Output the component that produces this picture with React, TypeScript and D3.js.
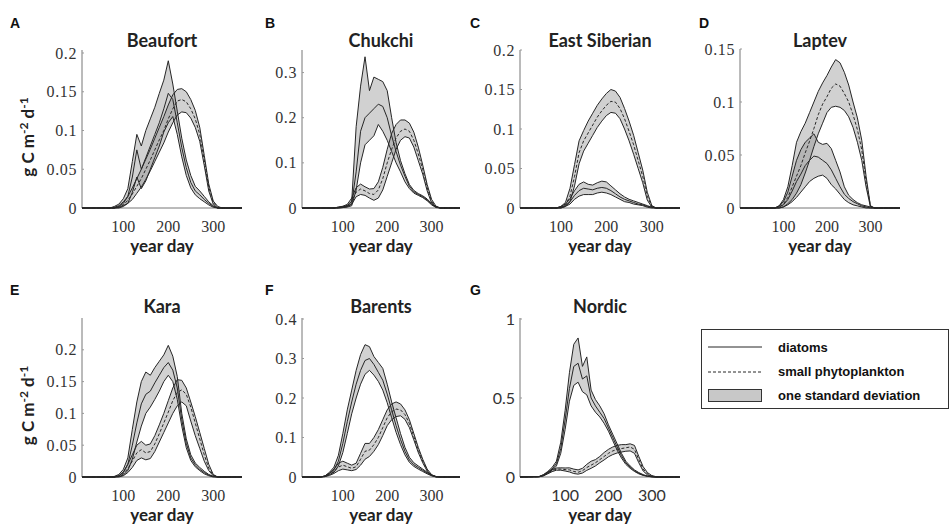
import React from 'react';
import * as d3 from 'd3';

const DAYS = [40,50,60,70,80,90,100,110,120,130,140,150,160,170,180,190,200,210,220,230,240,250,260,270,280,290,300,310,320,330];
const X_TICKS = [100, 200, 300];

// Beaufort
const beaufortDiatomLo = [0,0,0,0,0,0.001,0.003,0.006,0.02,0.04,0.025,0.035,0.05,0.065,0.08,0.098,0.11,0.118,0.095,0.066,0.042,0.026,0.017,0.012,0.008,0.004,0.001,0,0,0];
const beaufortDiatomMean = [0,0,0,0,0.001,0.003,0.008,0.015,0.04,0.075,0.05,0.065,0.08,0.095,0.11,0.128,0.148,0.14,0.11,0.078,0.052,0.033,0.022,0.017,0.011,0.006,0.002,0,0,0];
const beaufortDiatomHi = [0,0,0,0,0.002,0.005,0.012,0.025,0.06,0.095,0.08,0.1,0.115,0.13,0.148,0.165,0.19,0.16,0.125,0.09,0.062,0.042,0.028,0.022,0.015,0.008,0.003,0,0,0];
const beaufortSmallLo = [0,0,0,0,0,0,0.002,0.006,0.011,0.019,0.027,0.037,0.048,0.06,0.072,0.084,0.098,0.11,0.12,0.124,0.123,0.116,0.104,0.086,0.055,0.022,0.005,0,0,0];
const beaufortSmallMean = [0,0,0,0,0,0.001,0.004,0.01,0.018,0.028,0.038,0.05,0.062,0.075,0.088,0.1,0.115,0.128,0.138,0.14,0.137,0.128,0.115,0.095,0.062,0.027,0.007,0.001,0,0];
const beaufortSmallHi = [0,0,0,0,0,0.002,0.006,0.015,0.026,0.038,0.05,0.063,0.076,0.09,0.104,0.118,0.133,0.146,0.153,0.154,0.15,0.14,0.126,0.104,0.068,0.031,0.009,0.002,0,0];

// Chukchi
const chukchiDiatomLo = [0,0,0,0,0,0,0.001,0.002,0.005,0.04,0.1,0.14,0.15,0.16,0.185,0.17,0.15,0.125,0.1,0.08,0.058,0.043,0.033,0.028,0.023,0.016,0.007,0.001,0,0];
const chukchiDiatomMean = [0,0,0,0,0,0.001,0.002,0.004,0.01,0.08,0.17,0.2,0.21,0.22,0.23,0.225,0.2,0.16,0.125,0.095,0.07,0.048,0.036,0.03,0.025,0.018,0.008,0.002,0,0];
const chukchiDiatomHi = [0,0,0,0,0,0.002,0.003,0.006,0.015,0.18,0.27,0.335,0.26,0.29,0.285,0.28,0.26,0.2,0.145,0.105,0.076,0.052,0.039,0.032,0.027,0.02,0.01,0.003,0,0];
const chukchiSmallLo = [0,0,0,0,0,0,0.001,0.003,0.008,0.025,0.03,0.028,0.022,0.017,0.022,0.04,0.07,0.1,0.13,0.15,0.158,0.155,0.135,0.105,0.075,0.038,0.011,0.002,0,0];
const chukchiSmallMean = [0,0,0,0,0,0.001,0.002,0.005,0.015,0.035,0.042,0.038,0.032,0.03,0.04,0.065,0.1,0.13,0.155,0.17,0.175,0.17,0.15,0.12,0.085,0.045,0.015,0.003,0,0];
const chukchiSmallHi = [0,0,0,0,0,0.002,0.004,0.008,0.022,0.045,0.053,0.047,0.042,0.043,0.058,0.09,0.13,0.165,0.185,0.195,0.195,0.188,0.168,0.135,0.095,0.052,0.019,0.004,0,0];

// East Siberian
const eastSibDiatomLo = [0,0,0,0,0,0,0,0.002,0.005,0.011,0.015,0.017,0.017,0.017,0.019,0.02,0.019,0.017,0.014,0.011,0.008,0.007,0.005,0.004,0.003,0.001,0,0,0,0];
const eastSibDiatomMean = [0,0,0,0,0,0,0.001,0.003,0.008,0.016,0.022,0.025,0.024,0.023,0.025,0.026,0.025,0.022,0.018,0.014,0.011,0.009,0.007,0.005,0.004,0.002,0.001,0,0,0];
const eastSibDiatomHi = [0,0,0,0,0,0,0.002,0.005,0.012,0.022,0.03,0.033,0.03,0.029,0.032,0.034,0.033,0.028,0.023,0.018,0.014,0.011,0.009,0.007,0.005,0.003,0.001,0,0,0];
const eastSibSmallLo = [0,0,0,0,0,0,0,0.002,0.008,0.028,0.056,0.072,0.082,0.092,0.102,0.11,0.117,0.121,0.12,0.113,0.1,0.085,0.068,0.05,0.032,0.01,0.001,0,0,0];
const eastSibSmallMean = [0,0,0,0,0,0,0.001,0.004,0.015,0.04,0.07,0.085,0.095,0.105,0.115,0.123,0.13,0.135,0.134,0.126,0.113,0.097,0.08,0.06,0.04,0.015,0.002,0,0,0];
const eastSibSmallHi = [0,0,0,0,0,0,0.002,0.007,0.025,0.055,0.085,0.098,0.11,0.12,0.13,0.138,0.145,0.15,0.148,0.14,0.126,0.11,0.092,0.07,0.048,0.02,0.003,0,0,0];

// Laptev
const laptevDiatomLo = [0,0,0,0,0,0,0.001,0.003,0.006,0.01,0.015,0.02,0.025,0.028,0.03,0.031,0.028,0.022,0.018,0.013,0.008,0.005,0.003,0.002,0.001,0,0,0,0,0];
const laptevDiatomMean = [0,0,0,0,0,0.001,0.003,0.008,0.016,0.025,0.032,0.04,0.045,0.049,0.048,0.045,0.042,0.036,0.028,0.02,0.013,0.009,0.006,0.004,0.002,0.001,0,0,0,0];
const laptevDiatomHi = [0,0,0,0,0,0.002,0.006,0.015,0.03,0.045,0.055,0.062,0.066,0.07,0.062,0.06,0.061,0.056,0.045,0.034,0.02,0.012,0.008,0.005,0.003,0.002,0.001,0,0,0];
const laptevSmallLo = [0,0,0,0,0,0,0.001,0.004,0.008,0.014,0.022,0.033,0.045,0.058,0.07,0.08,0.09,0.095,0.096,0.095,0.092,0.086,0.076,0.062,0.045,0.02,0.001,0,0,0];
const laptevSmallMean = [0,0,0,0,0,0.001,0.004,0.01,0.02,0.03,0.04,0.052,0.063,0.075,0.088,0.098,0.105,0.113,0.117,0.115,0.108,0.1,0.088,0.074,0.055,0.025,0.002,0,0,0];
const laptevSmallHi = [0,0,0,0,0,0.002,0.008,0.02,0.04,0.062,0.072,0.08,0.09,0.1,0.11,0.118,0.125,0.133,0.14,0.137,0.128,0.116,0.1,0.085,0.064,0.03,0.002,0,0,0];

// Kara
const karaDiatomLo = [0,0,0,0,0,0.001,0.003,0.01,0.028,0.055,0.08,0.1,0.11,0.122,0.135,0.15,0.16,0.15,0.122,0.08,0.046,0.026,0.016,0.01,0.005,0.002,0,0,0,0];
const karaDiatomMean = [0,0,0,0,0,0.002,0.007,0.02,0.05,0.085,0.115,0.13,0.135,0.148,0.16,0.172,0.18,0.168,0.14,0.09,0.053,0.03,0.019,0.012,0.007,0.003,0.001,0,0,0];
const karaDiatomHi = [0,0,0,0,0.001,0.004,0.012,0.03,0.075,0.118,0.15,0.165,0.16,0.172,0.182,0.192,0.207,0.19,0.158,0.1,0.06,0.035,0.022,0.015,0.009,0.004,0.001,0,0,0];
const karaSmallLo = [0,0,0,0,0,0,0.002,0.007,0.015,0.026,0.03,0.027,0.029,0.04,0.055,0.07,0.085,0.1,0.112,0.118,0.112,0.088,0.065,0.045,0.025,0.01,0.002,0,0,0];
const karaSmallMean = [0,0,0,0,0,0.001,0.005,0.013,0.025,0.038,0.043,0.038,0.04,0.052,0.068,0.085,0.102,0.12,0.133,0.137,0.13,0.11,0.085,0.06,0.035,0.014,0.003,0,0,0];
const karaSmallHi = [0,0,0,0,0,0.002,0.008,0.02,0.035,0.05,0.056,0.05,0.052,0.065,0.082,0.1,0.12,0.14,0.153,0.152,0.14,0.118,0.095,0.07,0.045,0.02,0.004,0,0,0];

// Barents
const barentsDiatomLo = [0,0,0.001,0.006,0.012,0.028,0.062,0.11,0.16,0.2,0.235,0.26,0.27,0.258,0.242,0.22,0.188,0.15,0.113,0.082,0.056,0.037,0.027,0.02,0.014,0.008,0.003,0,0,0];
const barentsDiatomMean = [0,0,0.002,0.009,0.018,0.04,0.085,0.14,0.19,0.235,0.27,0.295,0.3,0.285,0.265,0.245,0.21,0.17,0.13,0.095,0.065,0.043,0.031,0.024,0.017,0.01,0.004,0.001,0,0];
const barentsDiatomHi = [0,0,0.003,0.012,0.025,0.055,0.11,0.17,0.22,0.27,0.31,0.335,0.33,0.305,0.29,0.275,0.235,0.19,0.15,0.11,0.075,0.05,0.036,0.028,0.02,0.012,0.005,0.001,0,0];
const barentsSmallLo = [0,0,0.001,0.004,0.009,0.016,0.02,0.018,0.016,0.019,0.03,0.045,0.052,0.065,0.082,0.105,0.13,0.145,0.153,0.155,0.146,0.125,0.094,0.062,0.036,0.015,0.004,0,0,0];
const barentsSmallMean = [0,0,0.002,0.007,0.014,0.025,0.03,0.026,0.022,0.026,0.045,0.065,0.068,0.082,0.1,0.125,0.15,0.165,0.172,0.17,0.158,0.135,0.102,0.068,0.04,0.017,0.005,0.001,0,0];
const barentsSmallHi = [0,0,0.003,0.01,0.02,0.035,0.04,0.035,0.03,0.035,0.06,0.085,0.085,0.1,0.12,0.145,0.17,0.185,0.19,0.185,0.17,0.145,0.11,0.075,0.045,0.02,0.006,0.001,0,0];

// Nordic
const nordicDiatomLo = [0.001,0.008,0.024,0.042,0.07,0.15,0.3,0.48,0.58,0.6,0.54,0.52,0.45,0.41,0.38,0.34,0.29,0.23,0.17,0.12,0.08,0.055,0.035,0.02,0.01,0.004,0.001,0,0,0];
const nordicDiatomMean = [0.002,0.012,0.03,0.05,0.085,0.18,0.36,0.56,0.7,0.72,0.62,0.64,0.5,0.45,0.41,0.37,0.31,0.25,0.19,0.135,0.09,0.063,0.04,0.024,0.012,0.005,0.001,0,0,0];
const nordicDiatomHi = [0.003,0.015,0.035,0.06,0.1,0.22,0.42,0.66,0.84,0.88,0.7,0.76,0.55,0.49,0.45,0.4,0.33,0.27,0.21,0.15,0.1,0.07,0.045,0.028,0.015,0.006,0.002,0,0,0];
const nordicSmallLo = [0.001,0.007,0.02,0.034,0.043,0.043,0.038,0.032,0.022,0.018,0.025,0.042,0.055,0.07,0.09,0.108,0.128,0.142,0.152,0.158,0.163,0.165,0.15,0.09,0.038,0.013,0.004,0,0,0];
const nordicSmallMean = [0.002,0.01,0.025,0.04,0.05,0.05,0.047,0.045,0.035,0.03,0.04,0.06,0.075,0.09,0.11,0.13,0.15,0.165,0.175,0.18,0.185,0.19,0.175,0.11,0.05,0.02,0.006,0.001,0,0];
const nordicSmallHi = [0.003,0.013,0.03,0.046,0.057,0.058,0.057,0.058,0.05,0.045,0.055,0.08,0.1,0.11,0.13,0.155,0.175,0.19,0.2,0.205,0.205,0.21,0.2,0.13,0.065,0.028,0.009,0.002,0,0];

const PANEL_DATA = [
  { letter: 'A', title: 'Beaufort', dLo: beaufortDiatomLo, dMean: beaufortDiatomMean, dHi: beaufortDiatomHi, sLo: beaufortSmallLo, sMean: beaufortSmallMean, sHi: beaufortSmallHi, yTicks: [0, 0.05, 0.1, 0.15, 0.2], yMax: 0.2 },
  { letter: 'B', title: 'Chukchi', dLo: chukchiDiatomLo, dMean: chukchiDiatomMean, dHi: chukchiDiatomHi, sLo: chukchiSmallLo, sMean: chukchiSmallMean, sHi: chukchiSmallHi, yTicks: [0, 0.1, 0.2, 0.3], yMax: 0.35 },
  { letter: 'C', title: 'East Siberian', dLo: eastSibDiatomLo, dMean: eastSibDiatomMean, dHi: eastSibDiatomHi, sLo: eastSibSmallLo, sMean: eastSibSmallMean, sHi: eastSibSmallHi, yTicks: [0, 0.05, 0.1, 0.15, 0.2], yMax: 0.2 },
  { letter: 'D', title: 'Laptev', dLo: laptevDiatomLo, dMean: laptevDiatomMean, dHi: laptevDiatomHi, sLo: laptevSmallLo, sMean: laptevSmallMean, sHi: laptevSmallHi, yTicks: [0, 0.05, 0.1, 0.15], yMax: 0.15 },
  { letter: 'E', title: 'Kara', dLo: karaDiatomLo, dMean: karaDiatomMean, dHi: karaDiatomHi, sLo: karaSmallLo, sMean: karaSmallMean, sHi: karaSmallHi, yTicks: [0, 0.05, 0.1, 0.15, 0.2], yMax: 0.25 },
  { letter: 'F', title: 'Barents', dLo: barentsDiatomLo, dMean: barentsDiatomMean, dHi: barentsDiatomHi, sLo: barentsSmallLo, sMean: barentsSmallMean, sHi: barentsSmallHi, yTicks: [0, 0.1, 0.2, 0.3, 0.4], yMax: 0.4 },
  { letter: 'G', title: 'Nordic', dLo: nordicDiatomLo, dMean: nordicDiatomMean, dHi: nordicDiatomHi, sLo: nordicSmallLo, sMean: nordicSmallMean, sHi: nordicSmallHi, yTicks: [0, 0.5, 1], yMax: 1 },
];

const LEGEND_LABELS = ['diatoms', 'small phytoplankton', 'one standard deviation'];

// Layout (positions / styles)
const LAYOUT = [
  { x0: 82, x1: 242, yTop: 53, axisTop: 50, yBot: 208, xDom: [8, 364], letterX: 10, sans: false, yLabel: true },
  { x0: 302, x1: 460, yTop: 50, axisTop: 50, yBot: 208, xDom: [8, 364], letterX: 265, sans: false, yLabel: false },
  { x0: 520, x1: 680, yTop: 50, axisTop: 50, yBot: 208, xDom: [10, 362], letterX: 470, sans: false, yLabel: false },
  { x0: 740, x1: 900, yTop: 49, axisTop: 49, yBot: 208, xDom: [0, 368], letterX: 699, sans: false, yLabel: false },
  { x0: 82, x1: 242, yTop: 318, axisTop: 318, yBot: 477, xDom: [8, 364], letterX: 10, sans: false, yLabel: true },
  { x0: 302, x1: 460, yTop: 319, axisTop: 318, yBot: 477, xDom: [8, 364], letterX: 265, sans: false, yLabel: false },
  { x0: 520, x1: 680, yTop: 319, axisTop: 318, yBot: 477, xDom: [-4, 365], letterX: 470, sans: true, yLabel: false },
];

const LINE = '#262626';
const BAND = '#8c8c8c';
const SERIF = 'Liberation Serif, serif';
const SANS = 'Lato, Open Sans, sans-serif';
const ARIAL = 'Liberation Sans, Arial, sans-serif';

function Panel({ data, lay }: any) {
  const x = d3.scaleLinear().domain(lay.xDom).range([lay.x0, lay.x1]);
  const y = d3.scaleLinear().domain([0, data.yMax]).range([lay.yBot, lay.yTop]);
  const pts = (vals: number[]) => [[lay.xDom[0], 0], ...DAYS.map((d, i) => [d, vals[i]]), [lay.xDom[1], 0]] as [number, number][];
  const band = (lo: number[], hi: number[]) => {
    const a = d3.area<number>()
      .x((i) => x(i < 0 ? lay.xDom[0] : i >= DAYS.length ? lay.xDom[1] : DAYS[i]))
      .y0((i) => y(i < 0 || i >= DAYS.length ? 0 : lo[i]))
      .y1((i) => y(i < 0 || i >= DAYS.length ? 0 : hi[i]));
    return a([-1, ...DAYS.map((_, i) => i), DAYS.length]) as string;
  };
  const line = d3.line<[number, number]>().x((p) => x(p[0])).y((p) => y(p[1]));
  const row = lay.yBot < 300 ? 0 : 1;
  const titleY = row === 0 ? 47 : 313;
  const letterY = row === 0 ? 28 : 295;
  const tickFont = lay.sans ? SANS : SERIF;
  const tickSize = lay.sans ? 16 : 16;
  const cx = (lay.x0 + lay.x1) / 2;
  return (
    <g>
      <text x={lay.letterX} y={letterY} fontFamily={ARIAL} fontWeight="bold" fontSize={14} fill="#111">{data.letter}</text>
      <text x={cx} y={titleY} textAnchor="middle" fontFamily={SANS} fontWeight="bold" fontSize={18} fill="#222">{data.title}</text>
      <path d={band(data.sLo, data.sHi)} fill={BAND} fillOpacity={0.4} stroke="none" />
      <path d={band(data.dLo, data.dHi)} fill={BAND} fillOpacity={0.4} stroke="none" />
      <line x1={lay.x0} x2={lay.x0} y1={lay.yBot} y2={lay.axisTop} stroke="#777" strokeWidth={1} />
      <line x1={lay.x0} x2={lay.x1} y1={lay.yBot} y2={lay.yBot} stroke="#777" strokeWidth={1} />
      {data.yTicks.map((t: number) => (
        <line key={'t' + t} x1={lay.x0} x2={lay.x0 + 2} y1={y(t)} y2={y(t)} stroke="#999" strokeWidth={1} />
      ))}
      {[data.sLo, data.sHi, data.dLo, data.dHi, data.dMean].map((s: number[], i: number) => (
        <path key={i} d={line(pts(s)) as string} fill="none" stroke={LINE} strokeWidth={1} />
      ))}
      <path d={line(pts(data.sMean)) as string} fill="none" stroke={LINE} strokeWidth={1} strokeDasharray="3,2" />
      {data.yTicks.map((t: number) => (
        <text key={t} x={lay.x0 - 5} y={y(t)} dy="0.35em" textAnchor="end" fontFamily={tickFont} fontSize={tickSize} letterSpacing={lay.sans ? 0 : 0.6} fill="#333">{String(t)}</text>
      ))}
      {X_TICKS.map((t) => (
        <text key={t} x={x(t)} y={lay.yBot + 24} textAnchor="middle" fontFamily={tickFont} fontSize={tickSize} fill="#333">{String(t)}</text>
      ))}
      <text x={cx} y={lay.yBot + 44} textAnchor="middle" fontFamily={SANS} fontWeight="bold" fontSize={17} fill="#222">year day</text>
      {lay.yLabel && (
        <text transform={`translate(34, ${(lay.yBot + lay.axisTop) / 2 + 8}) rotate(-90)`} textAnchor="middle" fontFamily={SANS} fontWeight="bold" fontSize={17} fill="#222">
          g C m<tspan dy="-6" fontSize={12}>-2</tspan><tspan dy="6"> d</tspan><tspan dy="-6" fontSize={12}>-1</tspan>
        </text>
      )}
    </g>
  );
}

export default function App() {
  return (
    <svg width={951} height={528} style={{ position: 'absolute', left: 0, top: 0, background: '#fff' }}>
      <rect x={0} y={0} width={951} height={528} fill="#fff" />
      {PANEL_DATA.map((p, i) => <Panel key={p.letter} data={p} lay={LAYOUT[i]} />)}
      <g>
        <rect x={701.5} y={329.5} width={247} height={79} fill="#fff" stroke="#333" strokeWidth={1} />
        <line x1={708} x2={762} y1={347} y2={347} stroke={LINE} strokeWidth={1} />
        <line x1={708} x2={762} y1={372} y2={372} stroke={LINE} strokeWidth={1} strokeDasharray="3,2" />
        <rect x={708.5} y={389.5} width={53} height={12} fill="#c8c8c8" stroke="#333" strokeWidth={1} />
        {LEGEND_LABELS.map((l, i) => (
          <text key={l} x={778} y={352 + i * 24} fontFamily={ARIAL} fontWeight="bold" fontSize={13} fill="#111">{l}</text>
        ))}
      </g>
    </svg>
  );
}
